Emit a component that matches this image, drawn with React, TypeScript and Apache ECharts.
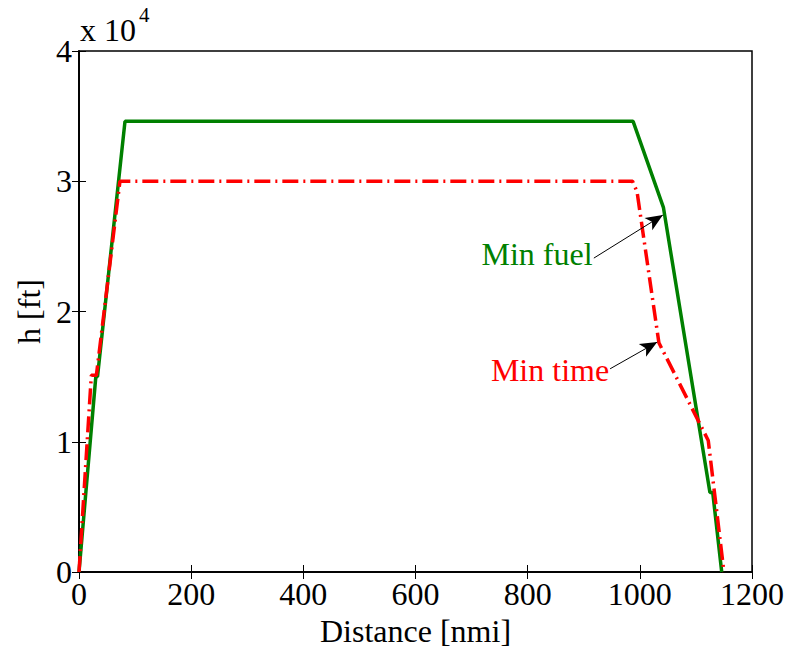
import React, { useEffect, useRef } from "react";
import * as echarts from "echarts";

// Min fuel trajectory (distance [nmi], altitude [ft])
const fuelX = [0, 30, 33, 82, 988, 1042, 1125, 1130, 1146];
const fuelH = [0, 15000, 15000, 34600, 34600, 28000, 6100, 6100, 0];
// Min time trajectory
const timeX = [0, 22, 31, 73, 987, 995, 1034, 1122, 1150];
const timeH = [0, 15100, 15100, 30000, 30000, 29200, 17600, 10100, 0];

const xTicks = [0, 200, 400, 600, 800, 1000, 1200];
const yTicks = [0, 1, 2, 3, 4];
const yScale = 10000;

// annotation arrows (data coordinates: tail, tip)
const fuelArrow = [[918, 24100], [1041, 27400]];
const timeArrow = [[947, 15600], [1031, 17650]];

const FONT = "'Liberation Serif', 'Times New Roman', serif";

export default function App() {
  const ref = useRef<HTMLDivElement>(null);
  useEffect(() => {
    if (!ref.current) return;
    const chart = echarts.init(ref.current, null, { renderer: "svg" });
    const zip = (xs: number[], ys: number[]) => xs.map((x, i) => [x, ys[i]]);
    const axisCommon = {
      type: "value" as const,
      axisLine: { show: true, lineStyle: { color: "#000", width: 1.5 } },
      axisTick: { show: true, inside: true, length: 7, lineStyle: { color: "#000", width: 1 } },
      splitLine: { show: false },
    };
    const arrowLine = (a: number[][]) => [
      { coord: a[0], symbol: "none" },
      { coord: a[1], symbol: "arrow" },
    ];
    chart.setOption({
      animation: false,
      backgroundColor: "#fff",
      grid: {
        left: 79,
        right: 39,
        top: 51,
        bottom: 77,
        containLabel: false,
        outerBoundsMode: "none",
        show: true,
        borderColor: "#000",
        borderWidth: 1.5,
      },
      xAxis: [
        {
          ...axisCommon,
          min: xTicks[0],
          max: xTicks[xTicks.length - 1],
          interval: 200,
          position: "bottom",
          axisLabel: {
            color: "#000",
            fontSize: 32,
            fontFamily: FONT,
            margin: 6,
            formatter: (v: number) => String(v),
          },
          name: "Distance [nmi]",
          nameLocation: "middle",
          nameGap: 35,
          nameTextStyle: { color: "#000", fontSize: 32, fontFamily: FONT },
        },
        {
          ...axisCommon,
          min: xTicks[0],
          max: xTicks[xTicks.length - 1],
          interval: 200,
          position: "top",
          axisLabel: { show: false },
        },
      ],
      yAxis: [
        {
          ...axisCommon,
          min: yTicks[0] * yScale,
          max: yTicks[yTicks.length - 1] * yScale,
          interval: yScale,
          position: "left",
          axisLabel: {
            color: "#000",
            fontSize: 32,
            fontFamily: FONT,
            margin: 7,
            formatter: (v: number) => String(v / yScale),
          },
          name: "h [ft]",
          nameLocation: "middle",
          nameGap: 32,
          nameTextStyle: { color: "#000", fontSize: 32, fontFamily: FONT },
        },
        {
          ...axisCommon,
          min: yTicks[0] * yScale,
          max: yTicks[yTicks.length - 1] * yScale,
          interval: yScale,
          position: "right",
          axisLabel: { show: false },
        },
      ],
      series: [
        {
          type: "line",
          name: "Min fuel",
          data: zip(fuelX, fuelH),
          showSymbol: false,
          symbol: "none",
          lineStyle: { color: "#008000", width: 3.5, type: "solid" },
          markLine: {
            silent: true,
            animation: false,
            symbolSize: [11, 17],
            label: { show: false },
            lineStyle: { color: "#000", width: 1, type: "solid" },
            itemStyle: { color: "#000" },
            data: [arrowLine(fuelArrow), arrowLine(timeArrow)],
          },
        },
        {
          type: "line",
          name: "Min time",
          data: zip(timeX, timeH),
          showSymbol: false,
          symbol: "none",
          lineStyle: { color: "#ff0000", width: 3.5, type: [16, 5, 2, 5] },
        },
      ],
      graphic: [
        {
          type: "text",
          left: 80,
          top: 14,
          style: { text: "x 10", fontSize: 32, fontFamily: FONT, fill: "#000" },
        },
        {
          type: "text",
          left: 139,
          top: 4,
          style: { text: "4", fontSize: 21, fontFamily: FONT, fill: "#000" },
        },
        {
          type: "text",
          x: 537,
          y: 254,
          style: {
            text: "Min fuel",
            fontSize: 32,
            fontFamily: FONT,
            fill: "#008000",
            align: "center",
            verticalAlign: "middle",
          },
        },
        {
          type: "text",
          x: 550,
          y: 370,
          style: {
            text: "Min time",
            fontSize: 32,
            fontFamily: FONT,
            fill: "#ff0000",
            align: "center",
            verticalAlign: "middle",
          },
        },
      ],
    });
    return () => chart.dispose();
  }, []);
  return <div ref={ref} style={{ width: 791, height: 649, position: "absolute", left: 0, top: 0 }} />;
}
